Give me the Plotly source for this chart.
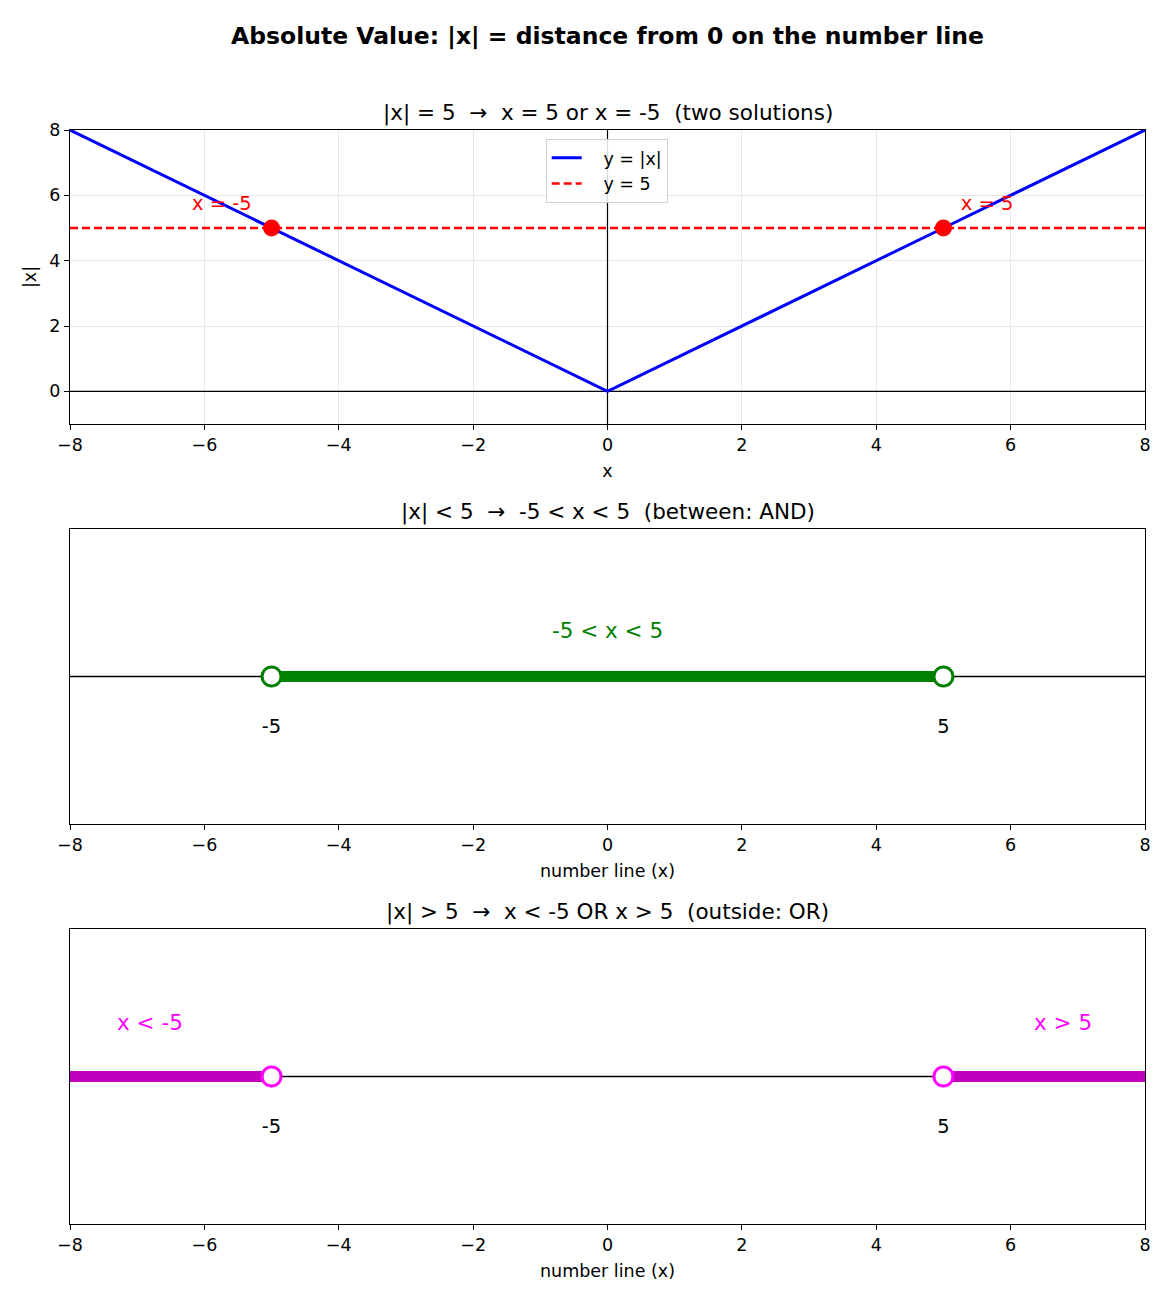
import plotly.graph_objects as go

# ---- data ----
abs_x = [-8, -5, 0, 5, 8]
abs_y = [8, 5, 0, 5, 8]
level_x = [-8, 8]
level_y = [5, 5]
solutions_x = [-5, 5]
solutions_y = [5, 5]
solution_labels = ["x = -5", "x = 5"]
solution_label_x = [-5.74, 5.65]
solution_label_y = [5.7, 5.7]

between_x = [-5, 5]
outside_left_x = [-8, -5]
outside_right_x = [5, 8]
boundary_x = [-5, 5]
boundary_labels = ["-5", "5"]
numline_x = [-8, 8]

titles = [
    "|x| = 5\u00a0\u00a0→\u00a0\u00a0x = 5 or x = -5\u00a0\u00a0(two solutions)",
    "|x| < 5\u00a0\u00a0→\u00a0\u00a0-5 < x < 5\u00a0\u00a0(between: AND)",
    "|x| > 5\u00a0\u00a0→\u00a0\u00a0x < -5 OR x > 5\u00a0\u00a0(outside: OR)",
]
suptitle = "Absolute Value: |x| = distance from 0 on the number line"
tick_vals = [-8, -6, -4, -2, 0, 2, 4, 6, 8]

FONT = "DejaVu Sans"
GREEN = "#008000"
MAG_BAR = "#bf00bf"
MAG = "#ff00ff"
TICK = 17.5
LAB = 17.5
PAD = "\u00a0\u00a0\u00a0"

fig = go.Figure()

# ---- top panel ----
fig.add_trace(go.Scatter(x=[0, 0], y=[-1, 8], mode="lines", line=dict(color="black", width=1.2),
                         showlegend=False, hoverinfo="skip", xaxis="x", yaxis="y"))
fig.add_trace(go.Scatter(x=level_x, y=[0, 0], mode="lines", line=dict(color="black", width=1.2),
                         showlegend=False, hoverinfo="skip", xaxis="x", yaxis="y"))
fig.add_trace(go.Scatter(x=abs_x, y=abs_y, mode="lines", name=PAD + "y = |x|",
                         line=dict(color="#0000ff", width=3), xaxis="x", yaxis="y"))
fig.add_trace(go.Scatter(x=level_x, y=level_y, mode="lines", name=PAD + "y = 5",
                         line=dict(color="#ff0000", width=2.5, dash="8px,4px"), xaxis="x", yaxis="y"))
fig.add_trace(go.Scatter(x=solutions_x, y=solutions_y, mode="markers", showlegend=False,
                         marker=dict(color="#ff0000", size=17), xaxis="x", yaxis="y"))
fig.add_trace(go.Scatter(x=solution_label_x, y=solution_label_y, mode="text", text=solution_labels,
                         textfont=dict(color="#ff0000", size=19.5, family=FONT), showlegend=False,
                         textposition="middle center", xaxis="x", yaxis="y"))

# ---- middle panel ----
fig.add_trace(go.Scatter(x=numline_x, y=[0, 0], mode="lines", line=dict(color="black", width=1.5),
                         showlegend=False, xaxis="x2", yaxis="y2"))
fig.add_trace(go.Scatter(x=between_x, y=[0, 0], mode="lines", line=dict(color=GREEN, width=11),
                         showlegend=False, xaxis="x2", yaxis="y2"))
fig.add_trace(go.Scatter(x=boundary_x, y=[0, 0], mode="markers", showlegend=False,
                         marker=dict(color="white", size=19, line=dict(color=GREEN, width=3)),
                         xaxis="x2", yaxis="y2"))
fig.add_trace(go.Scatter(x=[0], y=[0.3], mode="text", text=["-5 < x < 5"],
                         textfont=dict(color=GREEN, size=21.5, family=FONT), showlegend=False,
                         xaxis="x2", yaxis="y2"))
fig.add_trace(go.Scatter(x=boundary_x, y=[-0.35, -0.35], mode="text", text=boundary_labels,
                         textfont=dict(color="black", size=19.5, family=FONT), showlegend=False,
                         xaxis="x2", yaxis="y2"))

# ---- bottom panel ----
fig.add_trace(go.Scatter(x=numline_x, y=[0, 0], mode="lines", line=dict(color="black", width=1.5),
                         showlegend=False, xaxis="x3", yaxis="y3"))
fig.add_trace(go.Scatter(x=outside_left_x, y=[0, 0], mode="lines", line=dict(color=MAG_BAR, width=11),
                         showlegend=False, xaxis="x3", yaxis="y3"))
fig.add_trace(go.Scatter(x=outside_right_x, y=[0, 0], mode="lines", line=dict(color=MAG_BAR, width=11),
                         showlegend=False, xaxis="x3", yaxis="y3"))
fig.add_trace(go.Scatter(x=boundary_x, y=[0, 0], mode="markers", showlegend=False,
                         marker=dict(color="white", size=19, line=dict(color=MAG, width=3)),
                         xaxis="x3", yaxis="y3"))
fig.add_trace(go.Scatter(x=[-6.81, 6.78], y=[0.35, 0.35], mode="text", text=["x < -5", "x > 5"],
                         textfont=dict(color=MAG, size=21.5, family=FONT), showlegend=False,
                         xaxis="x3", yaxis="y3"))
fig.add_trace(go.Scatter(x=boundary_x, y=[-0.35, -0.35], mode="text", text=boundary_labels,
                         textfont=dict(color="black", size=19.5, family=FONT), showlegend=False,
                         xaxis="x3", yaxis="y3"))

H = 1094.0
dom_bot = [0, 295 / H]
dom_mid = [400 / H, 695 / H]
dom_top = [800 / H, 1.0]

def xax(anchor, title, grid):
    return dict(range=[-8, 8], tickvals=tick_vals, ticks="outside", ticklen=5, tickwidth=1,
                tickcolor="black", showline=True, mirror=True, linecolor="black", linewidth=1.2,
                showgrid=grid, gridcolor="#e8e8e8", gridwidth=1, zeroline=False, anchor=anchor,
                tickfont=dict(size=TICK, family=FONT, color="black"),
                title=dict(text=title, font=dict(size=LAB, family=FONT, color="black"), standoff=10))

fig.update_layout(
    width=1170, height=1300,
    margin=dict(l=70, r=25, t=130, b=76),
    paper_bgcolor="white", plot_bgcolor="white",
    font=dict(family=FONT, color="black"),
    xaxis=xax("y", "x", True),
    yaxis=dict(domain=dom_top, range=[-1, 8], tickvals=[0, 2, 4, 6, 8], ticks="outside", ticklen=5,
               tickcolor="black", showline=True, mirror=True, linecolor="black", linewidth=1.2,
               showgrid=True, gridcolor="#e8e8e8", zeroline=False, anchor="x",
               tickfont=dict(size=TICK, family=FONT, color="black"),
               title=dict(text="|x|", font=dict(size=LAB, family=FONT, color="black"), standoff=8)),
    xaxis2=xax("y2", "number line (x)", False),
    yaxis2=dict(domain=dom_mid, range=[-1, 1], showticklabels=False, ticks="", showline=True,
                mirror=True, linecolor="black", linewidth=1.2, showgrid=False, zeroline=False, anchor="x2"),
    xaxis3=xax("y3", "number line (x)", False),
    yaxis3=dict(domain=dom_bot, range=[-1, 1], showticklabels=False, ticks="", showline=True,
                mirror=True, linecolor="black", linewidth=1.2, showgrid=False, zeroline=False, anchor="x3"),
    legend=dict(x=0.4425, y=dom_top[0] + (dom_top[1] - dom_top[0]) * (1 - 9 / 295),
                xref="paper", yref="paper", xanchor="left", yanchor="top",
                bgcolor="rgba(255,255,255,0.85)", bordercolor="#d0d0d0", borderwidth=1,
                font=dict(size=17.5, family=FONT, color="black"), tracegroupgap=0),
    showlegend=True,
)

for dom, t in zip([dom_top, dom_mid, dom_bot], titles):
    fig.add_annotation(text=t, x=0.5, y=dom[1], xref="paper", yref="paper", xanchor="center",
                       yanchor="bottom", yshift=2, showarrow=False,
                       font=dict(size=21.5, family=FONT, color="black"))

fig.add_annotation(text="<b>" + suptitle + "</b>", x=0.5, y=1 + (130 - 36) / H, xref="paper",
                   yref="paper", yanchor="middle", showarrow=False,
                   font=dict(size=23.5, family=FONT, color="black"))

fig.write_html("out.html")
